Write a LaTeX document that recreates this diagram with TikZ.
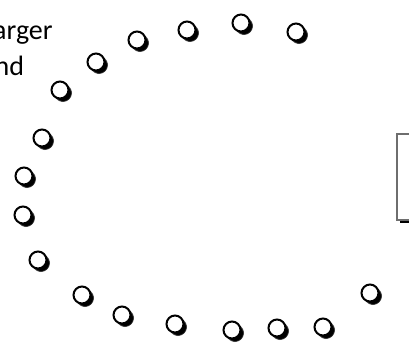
\documentclass[tikz,border=0pt]{standalone}
\usepackage{fontspec}
\setmainfont{Carlito}
\usetikzlibrary{shadows}
\definecolor{rim}{HTML}{6E6E6E}
\tikzset{
  chair/.style={circle, draw=black, line width=2pt, fill=white,
    minimum size=17pt, inner sep=0pt,
    circular drop shadow={shadow xshift=2.5pt, shadow yshift=-2.5pt,
      fill=black, opacity=1}},
  tablebox/.style={rectangle, draw=rim, line width=1.5pt, fill=white,
    minimum width=40pt, minimum height=86pt, inner sep=0pt,
    drop shadow={shadow xshift=3pt, shadow yshift=-3pt, fill=black, opacity=1}},
  caption/.style={anchor=base west, inner sep=0pt,
    font=\fontsize{28}{34}\selectfont},
}

\begin{document}
\begin{tikzpicture}[x=1pt,y=-1pt]
  \useasboundingbox (0,0) rectangle (409,343);
  \clip (0,0) rectangle (409,343);
  \node[caption] (lineA) at (-7,39) {arger};
  \node[caption] (lineB) at (-5.5,75) {nd};
  \node[tablebox,anchor=north west] (table) at (396,133) {};
  \foreach \x/\y [count=\i] in {60/90,96/62,137/40,187/30,241/23,296/32,
      42/138,24/176,23/215,38/260,82/295,122/315,175/324,232/330,
      277/328,323/327,370/293} {
    \node[chair] (c\i) at (\x,\y) {};
  }
\end{tikzpicture}
\end{document}
